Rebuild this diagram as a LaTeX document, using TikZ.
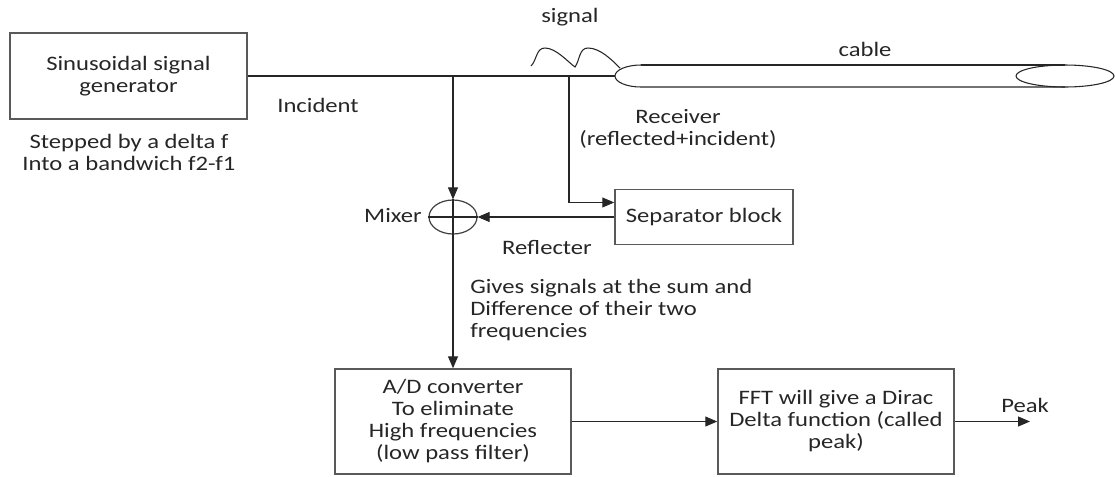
\documentclass[tikz,border=0pt]{standalone}
\usepackage{fontspec}
\setmainfont{Carlito}[FakeStretch=1.2]
\usepackage{tikz}
\usetikzlibrary{arrows.meta, shapes.geometric}

\tikzset{
	txt/.style={align=center, inner sep=0pt, text=black!85, font=\fontsize{15.4}{16.5}\selectfont},
	block/.style={txt, draw=black!65, line width=1.1pt, rectangle},
	wire/.style={line width=0.8pt, draw=black!85},
	arr/.style={wire, -{Triangle[length=9pt, width=7.5pt]}}
}

\begin{document}
\begin{tikzpicture}[x=0.75pt, y=-0.75pt]
				\useasboundingbox (0, 0) rectangle (1115, 476);
				% Blocks, labels and the cable:
				\node[block, minimum width=177.75pt, minimum height=64.5pt](gen) at (128.5, 76){Sinusoidal signal\\generator};
				\node[block, minimum width=133.5pt, minimum height=41.25pt](sep) at (704, 217){Separator block};
				\node[block, minimum width=177pt, minimum height=78.75pt](adc) at (453, 421.5){A/D converter\\To eliminate\\High frequencies\\(low pass filter)};
				\node[block, minimum width=177pt, minimum height=78.75pt](fft) at (836, 421.5){FFT will give a Dirac\\Delta function (called\\peak)};
				\node[ellipse, draw=black!75, line width=0.9pt, minimum width=36pt, minimum height=25.5pt, inner sep=0pt](mixer) at (453, 217){};
				\node[txt](signal) at (570, 17){signal};
				\node[txt](cable) at (865, 49){cable};
				\node[txt](incident) at (318, 105){Incident};
				\node[txt](stepped) at (129, 152.5){Stepped by a delta f\\Into a bandwich f2-f1};
				\node[txt](receiver) at (678, 128.5){Receiver\\(reflected+incident)};
				\node[txt](mixerlbl) at (393, 215){Mixer};
				\node[txt](reflecter) at (547, 247){Reflecter};
				\node[txt, align=left, anchor=west](gives) at (470, 310){Gives signals at the sum and\\Difference of their two\\frequencies};
				\node[txt](peak) at (1025, 405){Peak};
				\coordinate (cableL) at (615, 76);
				\coordinate (j1) at (mixer |- gen.east);
				\coordinate (j2) at (569, 76);
				\coordinate (peakend) at (1030, 421.5);
				\draw[wire] (641, 65) arc[start angle=270, end angle=90, x radius=26, y radius=11] -- (1065, 87);
				\draw[wire] (641, 65) -- (1065, 65);
				\draw[wire] (1065, 76) ellipse[x radius=49, y radius=11];
				\draw[wire] (531, 66) .. controls (537, 60) and (536, 48) .. (545, 48) .. controls (556, 48) and (568, 62) .. (575, 67) .. controls (580, 60) and (579, 48) .. (588, 48) .. controls (600, 48) and (612, 60) .. (620, 68);
				% Wires and arrows:
				\draw[wire] (gen.east) -- (cableL);
				\draw[arr] (j1) -- (mixer.north);
				\draw[arr] (j2) |- ([yshift=10.9pt]sep.west);
				\draw[arr] (sep.west) -- (mixer.east);
				\draw[wire] (mixer.west) -- (mixer.east) (mixer.north) -- (mixer.south);
				\draw[arr] (mixer.south) -- (adc.north);
				\draw[arr] (adc.east) -- (fft.west);
				\draw[arr] (fft.east) -- (peakend);
			\end{tikzpicture}
\end{document}
